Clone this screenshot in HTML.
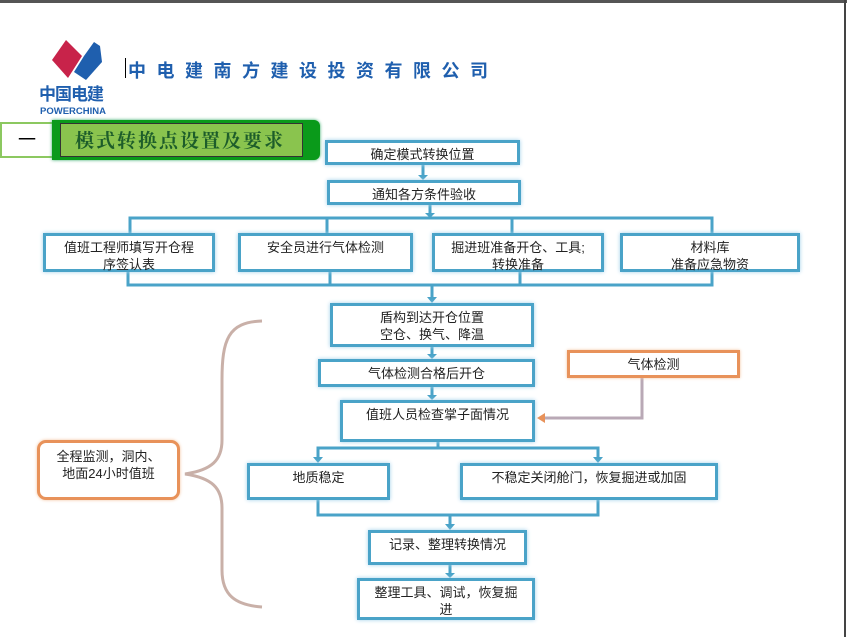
<!DOCTYPE html>
<html><head><meta charset="utf-8"><style>
body{margin:0;width:847px;height:637px;position:relative;background:#fff;font-family:"Liberation Sans","Noto Sans CJK SC",sans-serif;overflow:hidden}
.b{position:absolute;box-sizing:border-box;border:3px solid #4aa3c8;background:#fff;box-shadow:0 0 4px #9fd0ea;font-size:13px;color:#222;text-align:center;line-height:17px;padding-top:3px}
.o{border-color:#e8925a;box-shadow:0 0 3px #f3c4a0}
</style></head><body>
<div style="position:absolute;left:0;top:0;width:847px;height:3px;background:#555"></div>
<div style="position:absolute;left:844px;top:0;width:2px;height:637px;background:#444"></div>
<svg width="847" height="637" style="position:absolute;left:0;top:0">
<polygon points="66,40 82,56 68,78 52,60" fill="#c8234a"/>
<polygon points="84,56 94,42 100,46 102,62 86,80 74,72" fill="#1f5fae"/>
<g stroke="#4aa3c8" stroke-width="3" fill="none">
<line x1="423" y1="164" x2="423" y2="176"/>
<polyline points="130,233 130,218 712,218 712,233"/><line x1="327" y1="218" x2="327" y2="233"/><line x1="512" y1="218" x2="512" y2="233"/><line x1="430" y1="204" x2="430" y2="214"/>
<polyline points="128,272 128,285 712,285 712,272"/><line x1="330" y1="272" x2="330" y2="285"/><line x1="520" y1="272" x2="520" y2="285"/>
<line x1="432" y1="285" x2="432" y2="298"/>
<line x1="432" y1="347" x2="432" y2="355"/><line x1="432" y1="387" x2="432" y2="396"/>
<line x1="438" y1="442" x2="438" y2="448"/><polyline points="318,458 318,448 598,448 598,458"/>
<polyline points="318,500 318,515 598,515 598,500"/><line x1="450" y1="515" x2="450" y2="525"/>
<line x1="450" y1="565" x2="450" y2="574"/>
</g>
<g fill="#4aa3c8">
<polygon points="418,175 428,175 423,180"/><polygon points="425,213 435,213 430,218"/>
<polygon points="427,297 437,297 432,303"/><polygon points="427,354 437,354 432,359"/>
<polygon points="427,395 437,395 432,400"/><polygon points="313,457 323,457 318,463"/>
<polygon points="593,457 603,457 598,463"/><polygon points="445,524 455,524 450,530"/>
<polygon points="445,573 455,573 450,578"/></g>
<polyline points="642,377 642,418 543,418" stroke="#b9a9b6" stroke-width="3" fill="none"/>
<polygon points="537,418 545,413 545,423" fill="#e8925a"/>
<path d="M262,321 C228,322 222,340 222,380 L222,440 C222,460 212,470 185,474 C212,478 222,488 222,508 L222,570 C222,595 235,605 262,607" stroke="#c9b0a8" stroke-width="3" fill="none"/>
</svg>
<div style="position:absolute;left:39px;top:85px;font-size:17px;font-weight:bold;color:#1f5fae;letter-spacing:-1px;line-height:20px">中国电建</div>
<div style="position:absolute;left:40px;top:106px;font-size:9.5px;font-weight:bold;color:#1f5fae;line-height:11px">POWERCHINA</div>
<div style="position:absolute;left:125px;top:58px;width:1px;height:20px;background:#000"></div>
<div style="position:absolute;left:128px;top:57px;font-size:18px;font-weight:bold;color:#1f5fae;letter-spacing:10.5px">中电建南方建设投资有限公司</div>
<div style="position:absolute;left:0;top:122px;width:54px;height:36px;background:#fff;border:2px solid #8cc860;box-sizing:border-box;text-align:center;font-size:18px;line-height:32px">一</div>
<div style="position:absolute;left:52px;top:120px;width:268px;height:40px;background:#0a9a1a;border-radius:0 6px 6px 0;box-shadow:0 0 3px #3a6"></div>
<div style="position:absolute;left:60px;top:123px;width:243px;height:34px;background:#8ac44e;border:1px solid #333;box-sizing:border-box;font-family:'Noto Serif CJK SC',serif;font-size:19px;color:#1d5d2a;font-weight:bold;letter-spacing:2px;line-height:32px;padding-left:14px">模式转换点设置及要求</div>
<div class="b" style="left:325px;top:140px;width:195px;height:25px">确定模式转换位置</div>
<div class="b" style="left:327px;top:180px;width:194px;height:25px">通知各方条件验收</div>
<div class="b" style="left:43px;top:233px;width:172px;height:39px">值班工程师填写开仓程<br>序签认表</div>
<div class="b" style="left:238px;top:233px;width:175px;height:39px">安全员进行气体检测</div>
<div class="b" style="left:432px;top:233px;width:172px;height:39px">掘进班准备开仓、工具;<br>转换准备</div>
<div class="b" style="left:620px;top:233px;width:180px;height:39px">材料库<br>准备应急物资</div>
<div class="b" style="left:330px;top:303px;width:204px;height:44px">盾构到达开仓位置<br>空仓、换气、降温</div>
<div class="b" style="left:318px;top:359px;width:217px;height:28px">气体检测合格后开仓</div>
<div class="b o" style="left:567px;top:350px;width:173px;height:28px">气体检测</div>
<div class="b" style="left:340px;top:400px;width:195px;height:42px">值班人员检查掌子面情况</div>
<div class="b" style="left:247px;top:463px;width:143px;height:37px">地质稳定</div>
<div class="b" style="left:460px;top:463px;width:258px;height:37px">不稳定关闭舱门，恢复掘进或加固</div>
<div class="b" style="left:368px;top:530px;width:159px;height:35px">记录、整理转换情况</div>
<div class="b" style="left:357px;top:578px;width:178px;height:42px">整理工具、调试，恢复掘<br>进</div>
<div class="b o" style="left:37px;top:440px;width:143px;height:60px;border-radius:9px;padding-top:5px">全程监测，洞内、<br>地面24小时值班</div>
</body></html>
